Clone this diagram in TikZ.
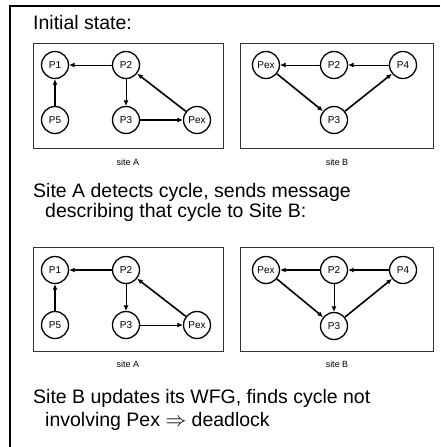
\documentclass[tikz,border=0pt]{standalone}
\usepackage{fontspec}
\setmainfont{Liberation Sans}
\usetikzlibrary{positioning,arrows.meta}

\begin{document}
\begin{tikzpicture}[x=1pt, y=-1pt, node distance={55pt and 71pt}, on grid,
  main/.style = {draw, circle, line width=1.3pt, minimum size=27pt, inner sep=0pt, font=\fontsize{10}{11}\selectfont},
  frame/.style = {draw=black!80, line width=0.9pt},
  light/.style = {->, line width=0.9pt},
  heavy/.style = {->, line width=1.6pt},
  >={Latex[length=5.5pt, width=5pt]},
  site/.style = {anchor=base, inner sep=0pt, font=\fontsize{9}{10}\selectfont},
  remark/.style = {anchor=base west, inner sep=0pt, font=\fontsize{19.5}{20.5}\selectfont}]

  \useasboundingbox (0,0) rectangle (440,447);
  % page edge
  \draw[line width=2.5pt] (440,6) -- (10,6) -- (10,448);

  \node[remark] (t1) at (33,29) {Initial state:};

  % before the message
  \draw[frame] (33,43) rectangle (223,148);
  \draw[frame] (240,43) rectangle (433,148);

  \node[main] (a1) at (55,65) {P1};
  \node[main] (a2) [right=of a1] {P2};
  \node[main] (a5) [below=of a1] {P5};
  \node[main] (a3) [right=of a5] {P3};
  \node[main] (ax) [right=of a3] {Pex};
  \draw[light] (a2) -- (a1);
  \draw[heavy] (a5) -- (a1);
  \draw[light] (a2) -- (a3);
  \draw[heavy] (ax) -- (a2);
  \draw[heavy] (a3) -- (ax);

  \node[main] (bx) at (266,65) {Pex};
  \node[main] (b2) [right=68pt of bx] {P2};
  \node[main] (b4) [right=69pt of b2] {P4};
  \node[main] (b3) [below=of b2] {P3};
  \draw[light] (b2) -- (bx);
  \draw[light] (b4) -- (b2);
  \draw[heavy] (bx) -- (b3);
  \draw[heavy] (b3) -- (b4);

  \node[site] (sa1) at (128,165) {site A};
  \node[site] (sb1) at (337,165) {site B};

  \node[remark] (t2) at (33,197) {Site A detects cycle, sends message};
  \node[remark] (t3) at (45,217) {describing that cycle to Site B:};

  % after the message
  \draw[frame] (33,247) rectangle (223,351);
  \draw[frame] (240,247) rectangle (433,351);

  \node[main] (c1) at (55,270) {P1};
  \node[main] (c2) [right=of c1] {P2};
  \node[main] (c5) [below=of c1] {P5};
  \node[main] (c3) [right=of c5] {P3};
  \node[main] (cx) [right=of c3] {Pex};
  \draw[heavy] (c2) -- (c1);
  \draw[heavy] (c5) -- (c1);
  \draw[light] (c2) -- (c3);
  \draw[heavy] (cx) -- (c2);
  \draw[light] (c3) -- (cx);

  \node[main] (dx) at (266,270) {Pex};
  \node[main] (d2) [right=68pt of dx] {P2};
  \node[main] (d4) [right=69pt of d2] {P4};
  \node[main] (d3) [below=56pt of d2] {P3};
  \draw[heavy] (d2) -- (dx);
  \draw[heavy] (d4) -- (d2);
  \draw[heavy] (dx) -- (d3);
  \draw[light] (d2) -- (d3);
  \draw[heavy] (d3) -- (d4);

  \node[site] (sa2) at (128,367) {site A};
  \node[site] (sb2) at (337,367) {site B};

  \node[remark] (t4) at (33,403) {Site B updates its WFG, finds cycle not};
  \node[remark] (t5) at (45,426.5) {involving Pex $\Rightarrow$ deadlock};
\end{tikzpicture}
\end{document}
